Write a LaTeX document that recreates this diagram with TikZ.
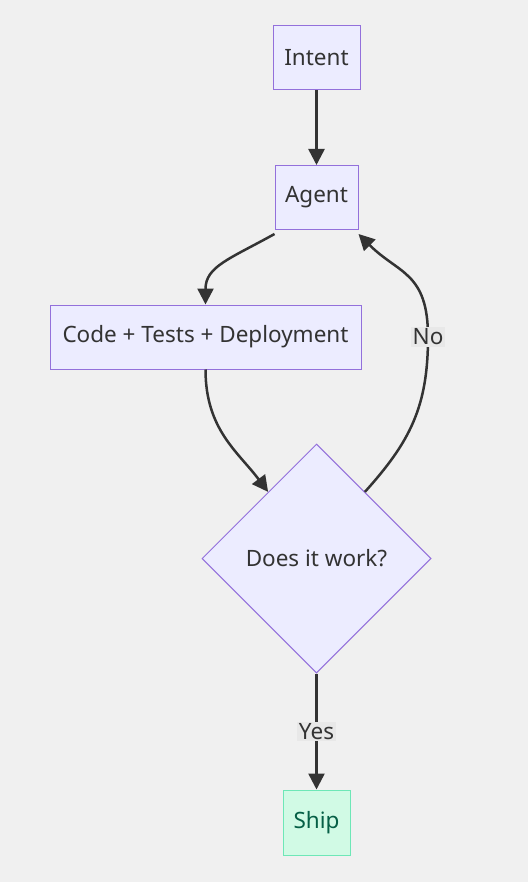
\documentclass[tikz,border=0pt]{standalone}
\usepackage{fontspec}
\setmainfont{Noto Sans}
\usepackage{xcolor}
\usetikzlibrary{positioning, calc, arrows.meta, shapes.geometric}

\definecolor{bgpage}{HTML}{F0F0F0}
\definecolor{boxfill}{HTML}{ECECFF}
\definecolor{boxline}{HTML}{9370DB}
\definecolor{ink}{HTML}{333333}
\definecolor{shipfill}{HTML}{D1FAE5}
\definecolor{shipline}{HTML}{6EE7B7}
\definecolor{shipink}{HTML}{065F46}
\definecolor{labelbg}{HTML}{E8E8E8}

\tikzset{
    stepbox/.style={draw=boxline, fill=boxfill, line width=1pt, text=ink,
        minimum height=64pt, inner xsep=10pt},
    checkbox/.style={diamond, draw=boxline, fill=boxfill, line width=1pt, text=ink,
        minimum width=229pt, minimum height=229pt, inner sep=0pt},
    shipbox/.style={draw=shipline, fill=shipfill, line width=1pt, text=shipink,
        minimum height=65pt, minimum width=67pt},
    flow/.style={draw=ink, line width=2.5pt, -{Triangle[length=16pt, width=16pt]}},
    edgelabel/.style={fill=labelbg, text=ink, inner sep=1.5pt}
}

\begin{document}
\begin{tikzpicture}[x=1pt, y=-1pt, font=\fontsize{22.5}{27}\selectfont]
    \fill[bgpage] (0, 0) rectangle (528, 882);
    \useasboundingbox (0, 0) rectangle (528, 882);

    \node[stepbox, minimum width=87pt] (intent) at (316.5, 58) {Intent};
    \node[stepbox, minimum width=83pt] (agent) at (316.5, 197.5) {Agent};
    \node[stepbox, minimum width=311pt] (build) at (205.5, 337) {Code + Tests + Deployment};
    \node[checkbox] (works) at (316.5, 558.5) {Does it work?};
    \node[shipbox] (ship) at (316.5, 822.5) {Ship};

    \coordinate (nobend) at (428, 337);

    \draw[flow] (intent) -- (agent);
    \draw[flow] ([yshift=-4pt]agent.south west) .. controls +(-45, 25) and +(0, -38) .. (build.north);
    \draw[flow] (build.south) .. controls +(0, 60) and +(-30, -40) .. (works.126);
    \draw[flow] (works.54) .. controls +(45, -50) and +(0, 70) .. (nobend)
        .. controls +(0, -65) and +(40, 40) .. ([yshift=-4pt]agent.south east);
    \draw[flow] (works.south) -- node[edgelabel] {Yes} (ship.north);
    \node[edgelabel] (nolabel) at (nobend) {No};
\end{tikzpicture}
\end{document}
